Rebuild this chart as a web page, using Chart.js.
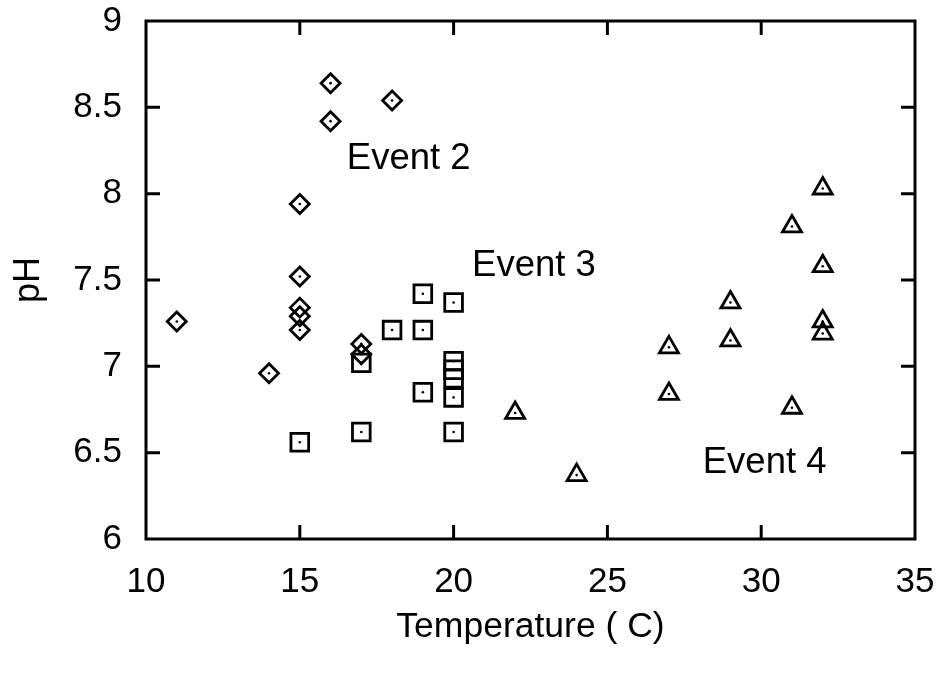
<html><head><meta charset="UTF-8">
<title>pH vs Temperature</title>
<style>
* { margin: 0; padding: 0; }
body { background: #ffffff; width: 942px; height: 677px; overflow: hidden; }
#wrap { width: 942px; height: 677px; }
</style>
<script src="https://cdn.jsdelivr.net/npm/chart.js"></script>
</head>
<body>
<div id="wrap"><canvas id="phChart" width="942" height="677"></canvas></div>
<script>
// Event 2 (diamonds)
const diamondX = [11, 14, 15, 15, 15, 15, 15, 16, 16, 17, 17, 18];
const diamondY = [7.26, 6.96, 7.94, 7.52, 7.34, 7.29, 7.21, 8.64, 8.42, 7.13, 7.07, 8.54];
// Event 3 (squares)
const squareX = [15, 17, 17, 18, 19, 19, 19, 20, 20, 20, 20, 20, 20];
const squareY = [6.56, 7.02, 6.62, 7.21, 7.42, 7.21, 6.85, 7.37, 7.03, 6.98, 6.93, 6.82, 6.62];
// Event 4 (triangles)
const triangleX = [22, 24, 27, 27, 29, 29, 31, 31, 32, 32, 32, 32];
const triangleY = [6.73, 6.37, 7.11, 6.84, 7.37, 7.15, 7.81, 6.76, 8.03, 7.58, 7.26, 7.19];

const xTicks = [10, 15, 20, 25, 30, 35];
const yTicks = [6, 6.5, 7, 7.5, 8, 8.5, 9];

const eventLabels = ['Event 2', 'Event 3', 'Event 4'];
const eventLabelX = [16.53, 20.6, 28.1];
const eventLabelY = [8.2, 7.58, 6.44];

const FONT = '"Liberation Sans", Arial, sans-serif';

const toPoints = (xs, ys) => xs.map((x, i) => ({ x: x, y: ys[i] }));

function markerSet(xs, ys, style, radius) {
  return {
    data: toPoints(xs, ys),
    pointStyle: style,
    pointRadius: radius,
    pointBorderWidth: 2.8,
    pointBorderColor: '#000',
    pointBackgroundColor: 'rgba(255,255,255,0)',
    showLine: false
  };
}
function dotSet(xs, ys) {
  return {
    data: toPoints(xs, ys),
    pointStyle: 'circle',
    pointRadius: 1.3,
    pointBorderWidth: 0,
    pointBackgroundColor: '#000',
    showLine: false
  };
}

// frame, inward ticks on all four sides, and the event labels
const framePlugin = {
  id: 'frame',
  afterDraw(chart) {
    const { ctx, chartArea: a, scales } = chart;
    const xs = scales.x, ys = scales.y;
    const len = 14;
    ctx.save();
    ctx.strokeStyle = '#000';
    ctx.lineWidth = 3;
    ctx.strokeRect(a.left, a.top, a.right - a.left, a.bottom - a.top);
    ctx.beginPath();
    xTicks.slice(1, -1).forEach(v => {
      const px = xs.getPixelForValue(v);
      ctx.moveTo(px, a.bottom); ctx.lineTo(px, a.bottom - len);
      ctx.moveTo(px, a.top); ctx.lineTo(px, a.top + len);
    });
    yTicks.slice(1, -1).forEach(v => {
      const py = ys.getPixelForValue(v);
      ctx.moveTo(a.left, py); ctx.lineTo(a.left + len, py);
      ctx.moveTo(a.right, py); ctx.lineTo(a.right - len, py);
    });
    ctx.stroke();

    ctx.fillStyle = '#000';
    ctx.font = '36.5px ' + FONT;
    ctx.textAlign = 'left';
    ctx.textBaseline = 'middle';
    eventLabels.forEach((t, i) => {
      ctx.fillText(t, xs.getPixelForValue(eventLabelX[i]), ys.getPixelForValue(eventLabelY[i]));
    });
    ctx.restore();
  }
};

new Chart(document.getElementById('phChart'), {
  type: 'scatter',
  data: {
    datasets: [
      markerSet(diamondX, diamondY, 'rectRot', 9.5),
      markerSet(squareX, squareY, 'rect', 12.5),
      markerSet(triangleX, triangleY, 'triangle', 11),
      dotSet(diamondX, diamondY),
      dotSet(squareX, squareY),
      dotSet(triangleX, triangleY)
    ]
  },
  options: {
    responsive: false,
    animation: false,
    devicePixelRatio: 1,
    layout: { autoPadding: false, padding: { top: 21, right: 27, left: 0, bottom: 0 } },
    plugins: { legend: { display: false }, tooltip: { enabled: false } },
    scales: {
      x: {
        type: 'linear',
        min: 10, max: 35,
        afterBuildTicks: s => { s.ticks = xTicks.map(v => ({ value: v })); },
        afterFit: s => { s.height = 138; s.paddingLeft = 0; s.paddingRight = 0; },
        grid: { display: false, drawTicks: false },
        border: { display: false },
        ticks: { color: '#000', padding: 22, font: { family: FONT, size: 35, lineHeight: 1.2 }, callback: v => String(v) },
        title: { display: true, text: 'Temperature ( C)', color: '#000', padding: { top: 0, bottom: 28 }, font: { family: FONT, size: 35.5, lineHeight: 1.2 } }
      },
      y: {
        type: 'linear',
        min: 6, max: 9,
        afterBuildTicks: s => { s.ticks = yTicks.map(v => ({ value: v })); },
        afterFit: s => { s.width = 146; s.paddingTop = 0; s.paddingBottom = 0; },
        grid: { display: false, drawTicks: false },
        border: { display: false },
        ticks: { color: '#000', padding: 24, font: { family: FONT, size: 35, lineHeight: 1.2 }, callback: v => String(v) },
        title: { display: true, text: 'pH', color: '#000', padding: { top: 7, bottom: 0 }, font: { family: FONT, size: 36, lineHeight: 1.2 } }
      }
    }
  },
  plugins: [framePlugin]
});
</script>
</body></html>
